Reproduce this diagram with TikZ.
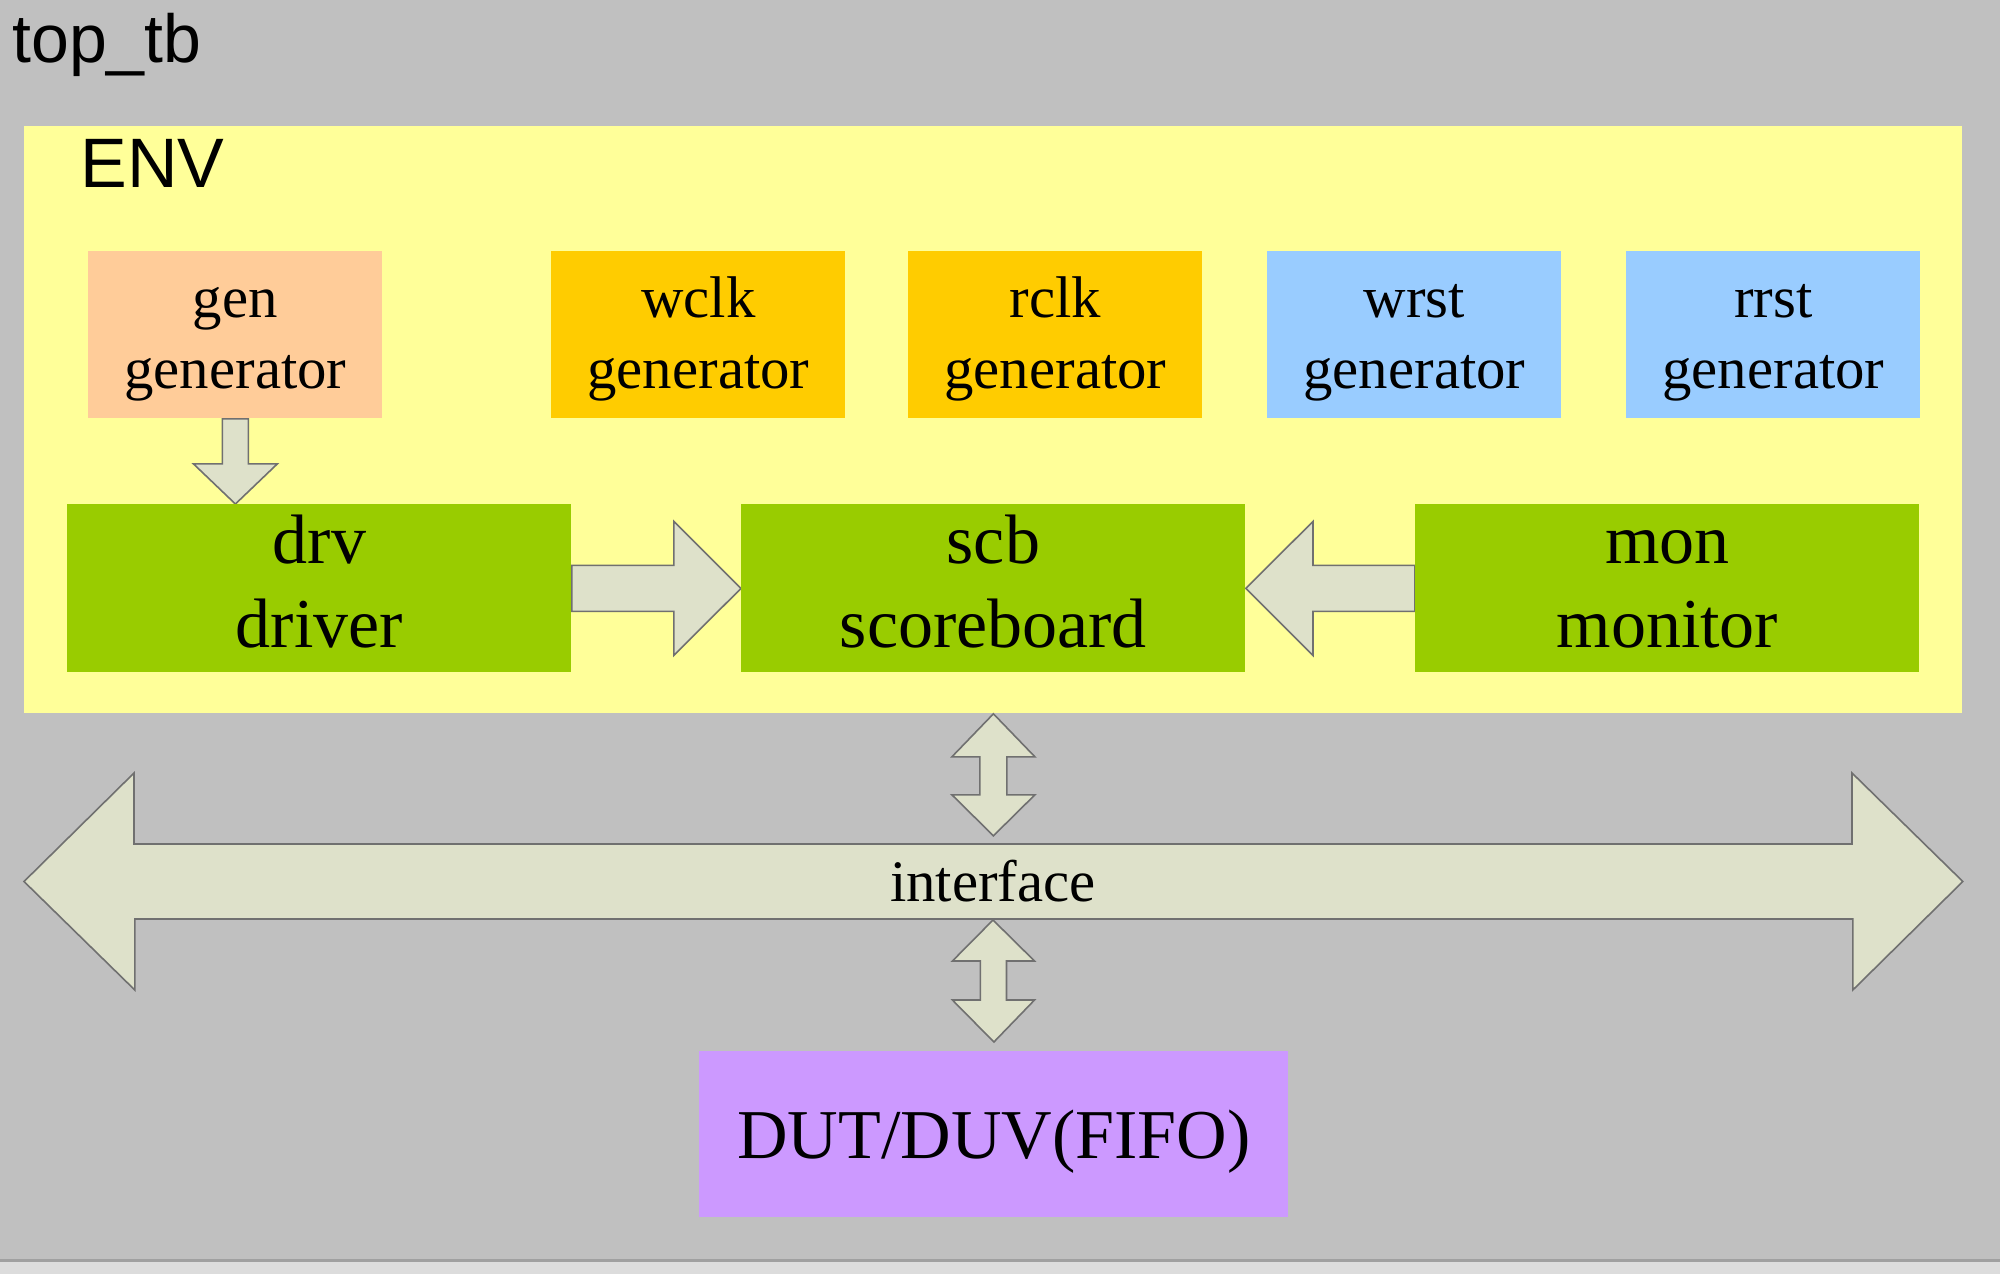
\documentclass[tikz,border=0pt]{standalone}
\usepackage{fontspec}
\setmainfont{Liberation Serif}
\setsansfont{Liberation Sans}
\usetikzlibrary{calc}
\definecolor{bgc}{HTML}{C0C0C0}
\definecolor{stripc}{HTML}{DCDCDC}
\definecolor{stripline}{HTML}{A0A0A0}
\definecolor{envc}{HTML}{FFFF99}
\definecolor{genc}{HTML}{FFCC99}
\definecolor{clkc}{HTML}{FFCC00}
\definecolor{rstc}{HTML}{99CCFF}
\definecolor{grnc}{HTML}{99CC00}
\definecolor{dutc}{HTML}{CC99FF}
\definecolor{arrf}{HTML}{DEE1CA}
\definecolor{arrd}{HTML}{707070}
\pgfdeclarelayer{back}
\pgfdeclarelayer{mid}
\pgfsetlayers{back,mid,main}
\newcommand{\topstrut}{\rule{0pt}{28.7pt}}
\begin{document}
\begin{tikzpicture}[x=0.5pt,y=-0.5pt,
  box/.style={draw=none, inner sep=0pt, align=center, anchor=north west},
  smallbox/.style={box, minimum width=147pt, minimum height=83.5pt,
    font=\fontsize{29.4}{35.3}\selectfont},
  bigbox/.style={box, minimum width=252pt, minimum height=83.5pt,
    font=\fontsize{35}{42}\selectfont},
  arrowshape/.style={fill=arrf, draw=arrd, line width=0.8pt, line join=miter},
  sanslabel/.style={inner sep=0pt, anchor=base west, font=\sffamily\fontsize{34}{40}\selectfont}
]
\useasboundingbox (0,0) rectangle (2000,1274);

\begin{pgfonlayer}{back}
  \fill[bgc] (0,0) rectangle (2000,1260);
  \fill[stripc] (0,1260) rectangle (2000,1274);
  \draw[stripline, line width=1.5pt] (0,1260.5) -- (2000,1260.5);
  \node[box, fill=envc, minimum width=969pt, minimum height=293.5pt] (env) at (24,126) {};
\end{pgfonlayer}

\node[sanslabel] (toptb) at (12,62) {top\_tb};
\node[sanslabel, font=\sffamily\fontsize{35}{42}\selectfont] (envlabel) at (80,187) {ENV};

% generator row
\node[smallbox, fill=genc] (gen)  at (88,251)   {\topstrut gen\\\strut generator};
\node[smallbox, fill=clkc] (wclk) at (551,251)  {\topstrut wclk\\\strut generator};
\node[smallbox, fill=clkc] (rclk) at (908,251)  {\topstrut rclk\\\strut generator};
\node[smallbox, fill=rstc] (wrst) at (1267,251) {\topstrut wrst\\\strut generator};
\node[smallbox, fill=rstc] (rrst) at (1626,251) {\topstrut rrst\\\strut generator};

% main row
\node[bigbox, fill=grnc] (drv) at (67,504)   {\strut drv\\\strut driver};
\node[bigbox, fill=grnc] (scb) at (741,504)  {\strut scb\\\strut scoreboard};
\node[bigbox, fill=grnc] (mon) at (1415,504) {\strut mon\\\strut monitor};

% DUT
\node[box, fill=dutc, minimum width=294.5pt, minimum height=83pt,
      font=\fontsize{35}{42}\selectfont, text height=24pt, text depth=0pt] (dut) at (699,1051) {DUT/DUV(FIFO)};

\coordinate (ifc) at (993,881.5);

\begin{pgfonlayer}{mid}
  % gen -> drv
  \draw[arrowshape] ($(gen.south)+(-13,0)$) -- ($(gen.south)+(13,0)$) -- ($(gen.south)+(13,45)$)
     -- ($(gen.south)+(42,45)$) -- (gen.south |- drv.north) -- ($(gen.south)+(-42,45)$)
     -- ($(gen.south)+(-13,45)$) -- cycle;
  % drv -> scb
  \draw[arrowshape] ($(drv.east)+(0,-23)$) -- ($(drv.east)+(102,-23)$) -- ($(drv.east)+(102,-67)$)
     -- (scb.west) -- ($(drv.east)+(102,67)$) -- ($(drv.east)+(102,23)$) -- ($(drv.east)+(0,23)$) -- cycle;
  % mon -> scb
  \draw[arrowshape] ($(mon.west)+(0,-23)$) -- ($(mon.west)+(-102,-23)$) -- ($(mon.west)+(-102,-67)$)
     -- (scb.east) -- ($(mon.west)+(-102,67)$) -- ($(mon.west)+(-102,23)$) -- ($(mon.west)+(0,23)$) -- cycle;
  % interface double arrow
  \draw[arrowshape] (env.west |- ifc) -- ++(110,-108.5) -- ++(0,71) -- ++(1718,0) -- ++(0,-71)
     -- (env.east |- ifc) -- ++(-110,108.5) -- ++(0,-71) -- ++(-1718,0) -- ++(0,71) -- cycle;
  % env <-> interface
  \draw[arrowshape] (scb.south |- env.south) -- ++(41.5,43) -- ++(-28,0) -- ++(0,38) -- ++(28,0)
     -- ++(-41.5,41) -- ++(-41.5,-41) -- ++(28,0) -- ++(0,-38) -- ++(-28,0) -- cycle;
  % interface <-> dut
  \draw[arrowshape] (993,920) -- ++(41.5,41) -- ++(-28,0) -- ++(0,39) -- ++(28,0)
     -- (dut.north |- 0,1042) -- ++(-41.5,-42) -- ++(28,0) -- ++(0,-39) -- ++(-28,0) -- cycle;
\end{pgfonlayer}

\node[inner sep=0pt, font=\fontsize{29.4}{35.3}\selectfont] (iface) at (ifc) {interface};
\end{tikzpicture}
\end{document}
